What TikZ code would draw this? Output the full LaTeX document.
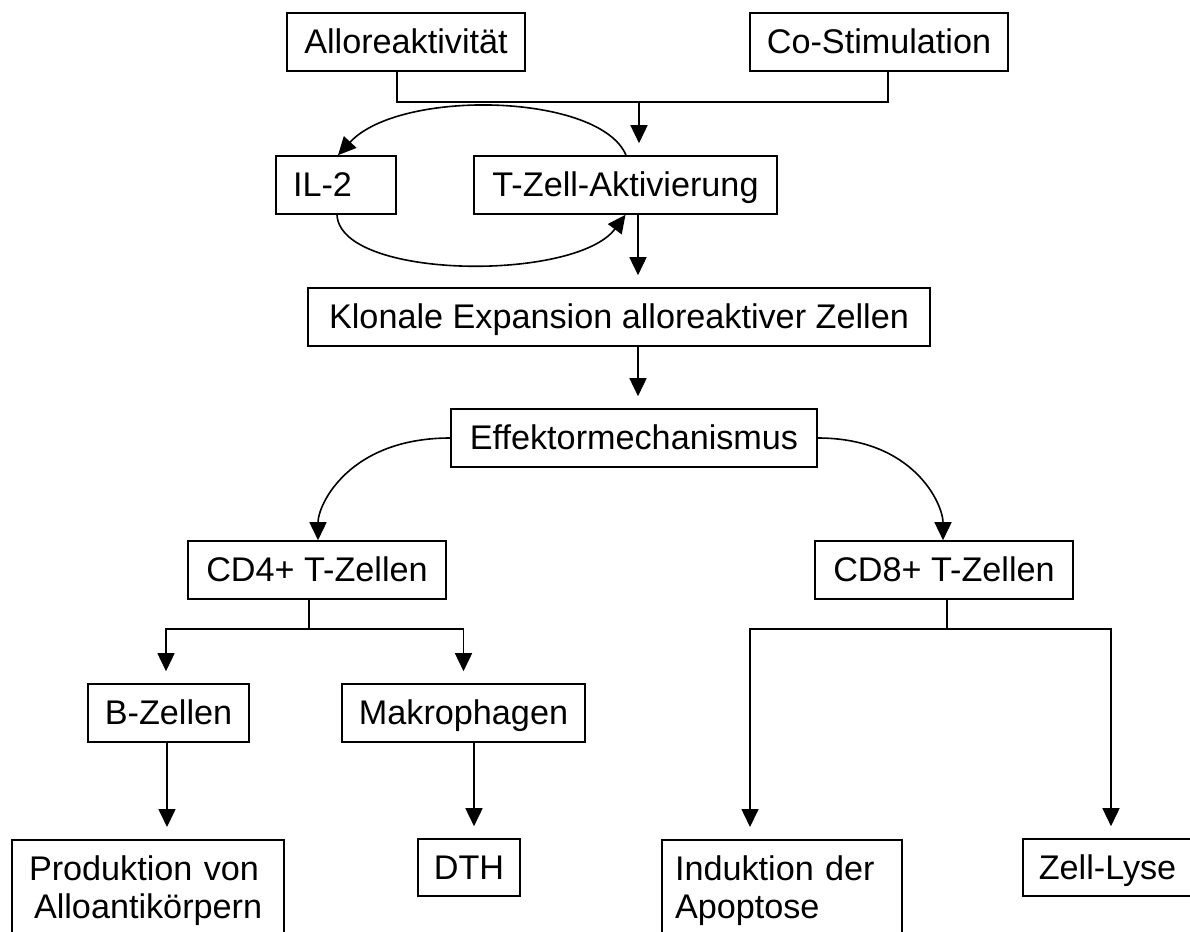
\documentclass[tikz,border=0pt]{standalone}
\usepackage{fontspec}
\setmainfont{Liberation Sans}
\usetikzlibrary{arrows.meta}
\newcommand{\cellfont}{\fontsize{34.2pt}{38pt}\selectfont}
\tikzset{
  cellbox/.style={draw, line width=1.6pt, minimum height=58pt, inner xsep=16pt,
    inner ysep=0pt, text height=25pt, text depth=2pt, font=\cellfont},
  tallbox/.style={draw, line width=1.6pt, anchor=north, inner ysep=16pt, font=\cellfont},
  link/.style={line width=1.6pt},
  flow/.style={line width=1.6pt, -{Triangle[length=18pt,width=17pt]}, shorten >=12pt},
  feedback/.style={line width=1.6pt, -{Triangle[length=18pt,width=17pt]}}
}

\begin{document}
\begin{tikzpicture}[x=1pt, y=-1pt]
  \useasboundingbox (0,0) rectangle (1190,931);
  \clip (0,0) rectangle (1190,931);

  % signals
  \node[cellbox, minimum width=238pt] (allo) at (406,42) {Alloreaktivität};
  \node[cellbox, minimum width=258pt] (costim) at (879,42) {Co-Stimulation};

  % activation
  \node[cellbox, minimum width=120pt, text width=86pt, inner xsep=17pt, align=left] (il2) at (336,185) {IL-2};
  \node[cellbox, minimum width=303pt] (tzell) at (625.5,185) {T-Zell-Aktivierung};
  \node[cellbox, minimum width=622pt] (klon) at (619,317) {Klonale Expansion alloreaktiver Zellen};
  \node[cellbox, minimum width=366pt] (effekt) at (634,438) {Effektormechanismus};

  % effector cells
  \node[cellbox, minimum width=258pt] (cd4) at (317,570) {CD4+ T-Zellen};
  \node[cellbox, minimum width=258pt] (cd8) at (944,570) {CD8+ T-Zellen};
  \node[cellbox, minimum width=161pt] (bzell) at (168.5,713) {B-Zellen};
  \node[cellbox, minimum width=243pt] (makro) at (463.5,713) {Makrophagen};

  % outcomes
  \node[tallbox, text width=238pt, inner xsep=17pt, align=left] (prod) at (148,839) {Produktion von\\\hspace*{5pt}Alloantikörpern};
  \node[cellbox, minimum width=102pt, minimum height=57pt, inner xsep=8pt] (dth) at (469,867.5) {DTH};
  \node[tallbox, text width=214pt, inner xsep=13pt, align=left] (indukt) at (782,839) {Induktion der\\Apoptose};
  \node[cellbox, minimum width=169pt, minimum height=57pt] (lyse) at (1107.5,867.5) {Zell-Lyse};

  % top junction
  \coordinate (join) at (639,102);
  \draw[link] ([xshift=-9pt]allo.south) |- (join) -| ([xshift=9pt]costim.south);
  \draw[flow] (join) -- (join |- tzell.north);

  % IL-2 loop
  \draw[feedback] ([xshift=0.5pt]tzell.north) .. controls +(-26,-62) and +(62,-67) .. ([xshift=2pt]il2.north);
  \draw[feedback] ([xshift=1pt]il2.south) .. controls +(3,65) and +(-50,67) .. (tzell.south);

  \draw[flow] ([xshift=12.5pt]tzell.south) -- ([xshift=12.5pt]tzell.south |- klon.north);
  \draw[flow] ([xshift=19pt]klon.south) -- ([xshift=19pt]klon.south |- effekt.north);

  \draw[feedback] (effekt.west) .. controls +(-101,0) and +(0,-36) .. ([xshift=1pt]cd4.north);
  \draw[feedback] (effekt.east) .. controls +(96,0) and +(0,-36) .. ([xshift=-1pt]cd8.north);

  % CD4 branch
  \coordinate (cd4split) at (309,629);
  \draw[link] (cd4split |- cd4.south) -- (cd4split);
  \draw[flow] (cd4split) -| ([xshift=-2.5pt]bzell.north);
  \draw[flow] (cd4split) -| (makro.north);
  \draw[flow] ([xshift=-1.5pt]bzell.south) -- ([xshift=-1.5pt]bzell.south |- prod.north);
  \draw[flow] ([xshift=10.5pt]makro.south) -- ([xshift=10.5pt]makro.south |- dth.north);

  % CD8 branch
  \coordinate (cd8split) at (947,629);
  \draw[link] (cd8split |- cd8.south) -- (cd8split);
  \draw[flow] (cd8split) -| ([xshift=-32pt]indukt.north);
  \draw[flow] (cd8split) -| ([xshift=3.5pt]lyse.north);
\end{tikzpicture}
\end{document}
